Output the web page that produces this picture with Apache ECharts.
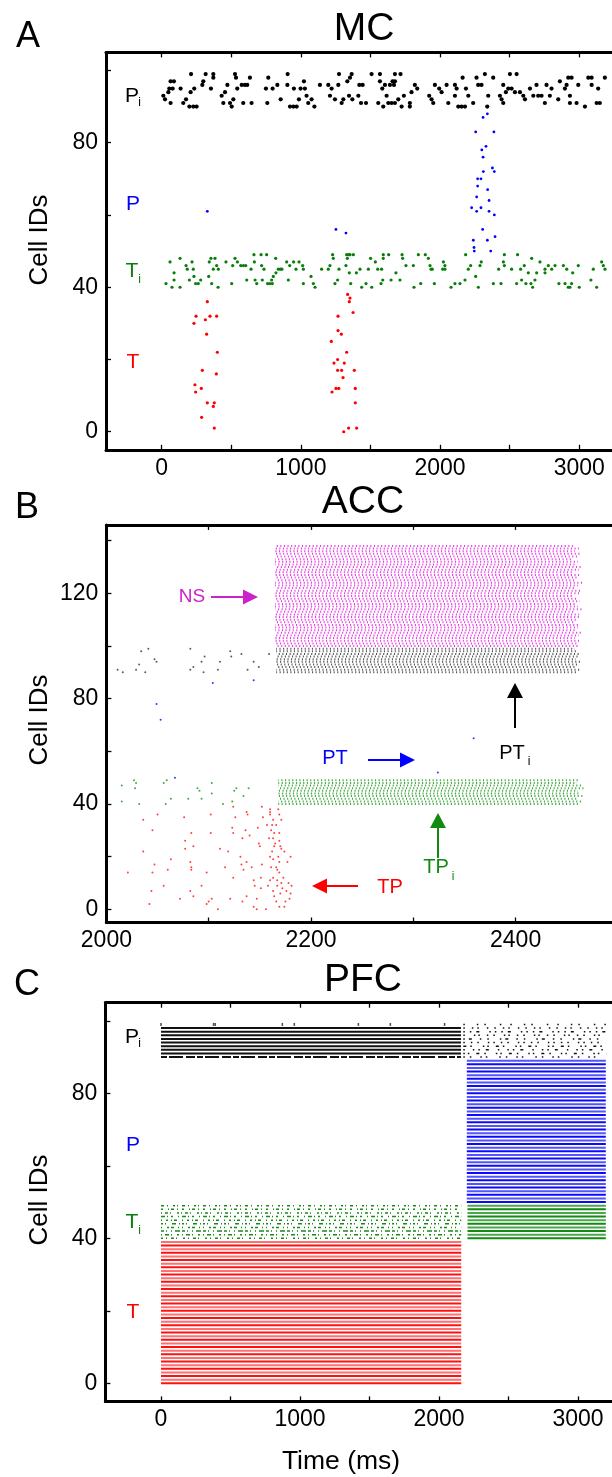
<!DOCTYPE html>
<html><head><meta charset="utf-8">
<script src="https://cdn.jsdelivr.net/npm/echarts@6/dist/echarts.min.js"></script>
<style>html,body{margin:0;padding:0;background:#fff}#c{width:612px;height:1477px}</style>
</head><body><div id="c"></div>
<script>
// ---------------- DATA ----------------
// Panel A (MC): [time ms, cell id]
const mcPi = [[12,93],[24,92],[55,95],[64,97],[88,97],[79,95],[48,94],[64,91],[136,95],[155,91],[175,92],[199,90],[227,90],[251,90],[208,94],[234,95],[211,99],[292,96],[316,99],[299,97],[354,95],[371,99],[371,98],[431,93],[455,94],[472,96],[443,91],[491,91],[503,90],[515,92],[527,99],[534,98],[543,95],[575,96],[598,96],[615,96],[634,98],[586,91],[646,91],[749,95],[766,98],[797,95],[831,96],[759,91],[855,92],[905,99],[903,96],[922,90],[950,95],[946,90],[970,90],[986,92],[998,95],[1022,97],[1041,93],[1029,95],[1053,91],[1077,92],[1097,90],[1137,96],[1197,96],[1209,93],[1221,95],[1245,92],[1274,99],[1269,96],[1293,91],[1305,92],[1334,97],[1353,98],[1365,99],[1346,93],[1370,92],[1420,96],[1444,96],[1413,93],[1432,91],[1468,91],[1508,99],[1568,99],[1568,97],[1556,91],[1585,95],[1592,90],
 [1604,96],[1616,93],[1640,96],[1659,97],[1676,99],[1676,97],[1716,99],[1669,96],[1628,91],[1652,91],[1676,91],[1700,92],[1724,90],[1740,93],[1783,91],[1783,90],[1795,94],[1819,96],[1836,95],[1922,93],[1939,92],[1951,91],[1963,96],[1994,95],[2011,94],[2047,96],[2059,91],[2107,96],[2119,95],[2107,93],[2131,90],[2155,90],[2179,90],[2162,98],[2186,95],[2203,93],[2238,91],[2262,98],[2274,96],[2298,96],[2322,99],[2346,93],[2339,90],[2382,98],[2430,93],[2442,92],[2454,96],[2454,91],[2473,94],[2490,95],[2502,99],[2514,95],[2550,99],[2538,94],[2574,94],[2598,93],[2610,92],[2646,95],[2670,93],[2693,96],[2705,93],[2729,93],[2753,91],[2765,96],[2789,93],[2801,95],[2849,92],[2861,97],[2897,95],[2909,96],[2921,98],[2945,98],[2933,93],[2933,91],[2981,91],[2993,96],[3041,90],[3065,98],[3089,98],[3089,96],[3125,91],[3136,95],[3148,91],[3184,98]];
const mcP = [[328,61],[1252,56],[1324,55],[2376,73],[2390,72],[2311,72],[2270,70],[2294,70],[2270,68],[2342,67],[2263,65],[2352,64],[2227,62],[2294,62],[2263,61],[2352,61],[2390,60],[2306,56],[2239,53],[2340,53],[2395,54],[2244,51],[2246,50],[2364,50],[2309,87],[2340,88],[2256,83],[2387,83],[2309,76],[2330,79],[2300,78]];
const mcTi = [[31,41],[60,47],[74,40],[89,44],[89,42],[132,48],[132,40],[175,46],[184,45],[199,42],[218,47],[227,45],[232,43],[244,41],[263,41],[280,42],[338,43],[342,47],[354,48],[359,41],[371,45],[383,48],[395,46],[405,40],[407,45],[462,47],[503,41],[510,46],[527,48],[544,47],[568,46],[587,46],[604,46],[611,42],[642,45],[663,49],[666,47],[671,42],[683,41],[714,49],[718,46],[723,42],[735,45],[754,49],[761,41],[778,41],[790,42],[795,41],[802,43],[819,48],[821,44],[838,45],[853,45],[864,45],[898,47],[910,42],[920,46],[948,47],[965,45],[987,47],[1013,46],[1018,41],[1018,45],[1073,43],[1090,41],[1102,40],[1149,45],[1197,45],[1209,46],[1228,49],[1233,48],[1245,41],[1264,42],[1274,45],[1324,46],[1329,49],[1334,48],[1343,49],[1353,49],[1348,44],[1358,41],[1377,49],[1399,44],[1425,45],[1437,40],[1468,41],[1485,45],[1501,48],[1509,40],[1535,47],[1552,45],[1580,45],[1576,41],[1592,48],[1592,49],[1588,42],[1631,49],[1648,42],[1683,44],[1712,42],[1727,49],[1731,48],[1755,46],[1808,46],[1813,40],[1844,49],[1861,41],[1894,49],[1916,48],[1928,46],[1935,45],[1944,45],[1959,41],[2024,47],[2019,45],[2035,45],[2035,46],[2079,40],[2107,41],[2143,41],[2179,42],[2184,49],[2203,45],[2220,46],[2256,43],[2275,40],[2287,46],[2296,47],[2383,41],[2421,45],[2438,41],[2455,47],[2462,49],[2462,46],[2514,45],[2550,41],[2557,49],[2579,45],[2586,42],[2605,46],[2617,41],[2634,44],[2653,41],[2658,48],[2665,40],[2682,42],[2694,44],[2718,47],[2754,45],[2754,44],[2778,46],[2802,45],[2826,46],[2854,41],[2886,46],[2898,41],[2910,45],[2921,40],[2933,40],[2945,41],[2953,44],[2993,46],[3000,40],[3084,42],[3101,45],[3125,40],[3161,47],[3173,46],[3185,45]];
const mcT = [[328,36],[247,32],[232,30],[314,31],[347,32],[395,32],[323,27],[400,22],[292,17],[393,16],[239,13],[244,11],[285,12],[328,8],[378,8],[371,7],[287,4],[378,1],
 [1336,38],[1353,37],[1348,36],[1375,33],[1267,32],[1267,28],[1291,27],[1219,25],[1329,22],[1238,19],[1264,20],[1312,19],[1264,17],[1293,17],[1384,17],[1303,15],[1224,11],[1252,12],[1272,12],[1391,12],[1391,8],[1308,0],[1343,1],[1401,1]];

// Panel B (ACC): sparse spikes [time ms, cell id]
const accPTiSparse = [[2011,91],[2016,90],[2034,98],[2032,93],[2029,91],[2038,90],[2041,99],[2047,95],[2049,94],[2082,99],[2085,92],[2082,91],[2093,94],[2096,96],[2095,90],[2109,91],[2111,94],[2121,98],[2122,96],[2132,97],[2138,91],[2144,94],[2149,92],[2159,97]];
const accPTSparse = [[2104,86],[2144,87],[2049,78],[2053,72],[2067,50],[2359,65],[2324,52]];
const accTPiSparse = [[2027,49],[2029,48],[2015,47],[2028,46],[2015,41],[2032,40],[2059,49],[2056,48],[2063,42],[2058,40],[2089,46],[2091,45],[2080,42],[2093,42],[2103,48],[2103,44],[2114,40],[2127,46],[2125,45],[2139,46],[2134,43],[2123,41]];
const accTP = [[2050,36],[2036,34],[2045,30],[2036,22],[2047,17],[2060,15],[2063,19],[2045,14],[2021,14],[2056,9],[2044,7],[2042,2],
 [2076,35],[2083,29],[2077,26],[2077,23],[2085,24],[2082,18],[2083,16],[2083,15],[2098,14],[2093,9],[2082,7],[2085,5],[2072,4],[2103,4],[2100,3],[2098,2],[2109,0],
 [2102,36],[2102,29],[2111,23],[2119,22],[2116,16],[2124,12],[2121,4],[2133,3],[2137,5],
 [2124,39],[2126,35],[2123,31],[2124,29],[2136,30],[2133,27],[2140,28],[2131,20],[2137,18],[2132,17],[2134,15],[2142,16],[2144,11],[2145,9],[2147,4],[2144,1],[2147,0],
 [2137,37],[2138,36],[2153,35],[2148,31],[2149,25],[2150,24],[2152,17],[2151,12],[2151,8],[2156,0],
 [2152,39],[2160,38],[2160,37],[2160,36],[2163,34],[2168,38],[2169,36],[2171,34],[2162,32],[2157,32],[2166,32],[2161,30],[2164,29],[2169,29],[2163,27],[2159,27],[2169,26],[2165,25],[2164,24],[2170,24],[2171,23],[2162,22],[2174,22],[2160,20],[2163,19],[2168,20],[2169,18],[2180,20],[2177,18],[2161,16],[2166,16],[2167,15],[2169,14],[2163,12],[2173,12],[2160,11],[2167,11],[2171,10],[2158,9],[2167,9],[2172,8],[2163,7],[2170,6],[2164,5],[2180,6],[2166,3],[2175,3],[2169,1],[2174,1],[2179,4],[2178,10],[2181,9],[2176,7]];
// Panel B tonic (regular) firing: first cell id, onset, per-cell offset times
const accNSFirstId = 100, accNSOnset = 2165;
const accNSEnd = [2463,2460,2464,2458,2462,2465,2459,2461,2463,2457,2460,2464,2462,2458,2465,2461,2459,2463,2460,2456,2462,2464,2459,2461,2465,2458,2460,2463,2457,2462,2464,2459,2461,2455,2460,2463,2458,2462,2456];
const accPTiFirstId = 90, accPTiOnset = 2166;
const accPTiEnd = [2460,2463,2458,2462,2465,2459,2461,2464,2460,2458];
const accTPiFirstId = 40, accTPiOnset = 2168;
const accTPiEnd = [2462,2465,2460,2466,2463,2461,2467,2464,2460,2463];

// Panel C (PFC): sustained firing blocks [first id, last id, onset ms, offset ms]
const pfcT = [0, 39, 0, 2160];
const pfcTiEarly = [40, 49, 0, 2160];
const pfcTiLate = [40, 49, 2205, 3200];
const pfcP = [50, 89, 2200, 3200];
const pfcPiEarly = [90, 98, 0, 2158];
const pfcPiLate = [90, 99, 2175, 3205];
const pfcPiTopSpikes = [[0,99],[378,99],[390,99],[873,99],[959,99],[1420,99],[1650,99],[2040,99]];

// Axis ticks
const xTicksMs = [0,500,1000,1500,2000,2500,3000];
const xLabelsMs = [0,1000,2000,3000];
const xTicksAcc = [2000,2100,2200,2300,2400];
const xLabelsAcc = [2000,2200,2400];
const yTicks100 = [0,20,40,60,80,100];
const yLabels100 = [0,40,80];
const yTicks140 = [0,20,40,60,80,100,120,140];
const yLabels140 = [0,40,80,120];

// ---------------- CHART ----------------
const FONT = '"Liberation Sans", Arial, Helvetica, sans-serif';
const chart = echarts.init(document.getElementById('c'), null, {renderer:'canvas'});

const grids = [
  {left:106, top:52.4, width:515, height:397.4},
  {left:106.4, top:524.9, width:511.5, height:397.6},
  {left:105.4, top:1002.7, width:514.3, height:398.7}
].map(g => Object.assign({containLabel:false, outerBoundsMode:'none', show:false}, g));

function xPair(gi, min, max, ticks, labels){
  const base = {gridIndex:gi, type:'value', min:min, max:max, splitLine:{show:false},
    axisLine:{show:true, onZero:false, lineStyle:{color:'#000', width:3}},
    axisTick:{show:true, inside:true, length:5, customValues:ticks, lineStyle:{color:'#000', width:1.3}}};
  return [
    Object.assign({}, base, {position:'bottom', axisLabel:{show:true, customValues:labels, color:'#000', fontSize:23, fontFamily:FONT, margin:7, formatter:v=>String(v)}}),
    Object.assign({}, base, {position:'top', axisLabel:{show:false}})
  ];
}
function yAx(gi, min, max, ticks, labels){
  return {gridIndex:gi, type:'value', min:min, max:max, position:'left', splitLine:{show:false},
    axisLine:{show:true, onZero:false, lineStyle:{color:'#000', width:3}},
    axisTick:{show:true, inside:true, length:5, customValues:ticks, lineStyle:{color:'#000', width:1.3}},
    axisLabel:{show:true, customValues:labels, color:'#000', fontSize:23, fontFamily:FONT, margin:8, formatter:v=>String(v)}};
}

const xAxes = [].concat(
  xPair(0, -400, 3300, xTicksMs, xLabelsMs),
  xPair(1, 2000, 2500, xTicksAcc, xLabelsAcc),
  xPair(2, -400, 3300, xTicksMs, xLabelsMs));
const yAxes = [
  yAx(0, -5, 105, yTicks100, yLabels100),
  yAx(1, -5, 146, yTicks140, yLabels140),
  yAx(2, -5, 105, yTicks100, yLabels100)];

function scatter(xi, yi, data, size, color, opacity){
  return {type:'scatter', xAxisIndex:xi, yAxisIndex:yi, data:data, symbol:'circle', symbolSize:size,
    itemStyle:{color:color, opacity:opacity==null?1:opacity}, silent:true, animation:false};
}

// segment series: data rows [id, t0, t1]; styles per row computed separately
function segSeries(xi, yi, rows, styleFn){
  const styles = rows.map((r, i) => styleFn(r, i));
  return {type:'custom', xAxisIndex:xi, yAxisIndex:yi, silent:true, animation:false,
    dimensions:['id','t0','t1'], encode:{x:[1,2], y:0}, data:rows,
    renderItem:function(params, api){
      const id = api.value(0), a = api.coord([api.value(1), id]), b = api.coord([api.value(2), id]);
      const s = styles[params.dataIndex];
      return {type:'line', shape:{x1:a[0], y1:a[1], x2:b[0], y2:b[1]},
        style:{stroke:s.c, lineWidth:s.w, lineDash:s.d || null, lineDashOffset:s.o || 0, opacity:s.op == null ? 1 : s.op}};
    }};
}
function blockRows(b){ const out = []; for (let id = b[0]; id <= b[1]; id++) out.push([id, b[2], b[3]]); return out; }
function tonicRows(firstId, onset, ends){ return ends.map((e, i) => [firstId + i, onset, e]); }

// dotted style for regular firing (ACC)
const wave = id => 1.8 + 1.6 * Math.sin(id * 0.75);
const dotStyle = (col, op) => (r) => ({c:col, w:2, d:[1.1, 2.5], o:wave(r[0]), op:op});

// sparse patterns (PFC)
const gPatterns = [[2,3,1,4,3,2,1,6],[1,3,4,2,1,5,2,3],[3,2,1,4,1,3,5,2],[1,5,2,2,3,4,1,3],[2,2,1,6,4,3,1,2],[1,4,2,3,1,2,3,5],[4,2,1,3,2,5,1,3],[1,3,3,2,1,6,2,2],[2,5,1,2,3,3,1,4],[3,3,1,5,2,2,1,4]];
const kPatterns = [[1.5,5,1.5,9,1.5,4,1.5,12],[1.5,3,1.5,7,3,5,1.5,10],[1.5,8,1.5,4,1.5,6,3,9],[3,4,1.5,11,1.5,3,1.5,7],[1.5,6,1.5,5,1.5,9,1.5,4],[1.5,4,3,8,1.5,6,1.5,11],[1.5,9,1.5,3,1.5,7,1.5,5],[1.5,5,1.5,5,3,10,1.5,4],[1.5,7,1.5,4,1.5,8,1.5,6],[1.5,12,1.5,6,1.5,14,1.5,9]];

const series = [
  // A
  scatter(0, 0, mcPi, 4.2, '#000'),
  scatter(0, 0, mcTi, 3.2, '#0a7d0a'),
  scatter(0, 0, mcT, 3.2, '#ff0000'),
  scatter(0, 0, mcP, 2.8, '#0000ff'),
  // B
  segSeries(2, 1, tonicRows(accNSFirstId, accNSOnset, accNSEnd), dotStyle('#e020e0', 0.85)),
  segSeries(2, 1, tonicRows(accPTiFirstId, accPTiOnset, accPTiEnd), dotStyle('#222', 0.75)),
  segSeries(2, 1, tonicRows(accTPiFirstId, accTPiOnset, accTPiEnd), dotStyle('#1f9a1f', 0.85)),
  scatter(2, 1, accPTiSparse, 2, '#333', 0.8),
  scatter(2, 1, accPTSparse, 2, '#2020ff', 0.9),
  scatter(2, 1, accTPiSparse, 2, '#1f9a1f', 0.85),
  scatter(2, 1, accTP, 2, '#ff2020', 0.85),
  // C
  segSeries(4, 2, blockRows(pfcT), r => ({c:'#ff1010', w:2, op: r[0] % 2 ? 0.6 : 1})),
  segSeries(4, 2, blockRows(pfcP), r => ({c:'#0a0aff', w:2, op: r[0] % 2 ? 0.7 : 1})),
  segSeries(4, 2, blockRows(pfcTiLate), r => ({c:'#108a10', w:2, op: r[0] % 2 ? 0.75 : 1})),
  segSeries(4, 2, blockRows(pfcPiEarly), r => ({c:'#111', w:2, op:1, d: r[0] === 90 ? [6,2,14,3,9,2] : null})),
  segSeries(4, 2, blockRows(pfcTiEarly), r => ({c:'#1a8a1a', w:1.5, d:gPatterns[r[0] - 40]})),
  segSeries(4, 2, blockRows(pfcPiLate), r => ({c:'#111', w:1.5, d:kPatterns[r[0] - 90]})),
  {type:'scatter', xAxisIndex:4, yAxisIndex:2, data:pfcPiTopSpikes, symbol:'rect', symbolSize:[1.5,3], itemStyle:{color:'#222'}, silent:true, animation:false}
];

// ---------------- TEXT & ANNOTATIONS ----------------
const txt = (s, x, y, size, color, extra) => Object.assign({type:'text', x:x, y:y, silent:true,
  style:{text:s, fontSize:size, fontFamily:FONT, fill:color, align:'center', verticalAlign:'middle'}}, extra || {});
const sub = (s, x, y, size, color) => txt(s, x, y, size, color);

function arrowH(x1, x2, y, color){ // tip at x2
  const dir = x2 > x1 ? 1 : -1, hl = 15, hw = 7.5;
  return [
    {type:'line', silent:true, shape:{x1:x1, y1:y, x2:x2 - dir*hl, y2:y}, style:{stroke:color, lineWidth:2}},
    {type:'polygon', silent:true, shape:{points:[[x2,y],[x2 - dir*hl, y - hw],[x2 - dir*hl, y + hw]]}, style:{fill:color}}
  ];
}
function arrowUp(x, y1, y2, color){ // tip at y2 (above)
  const hl = 15, hw = 8;
  return [
    {type:'line', silent:true, shape:{x1:x, y1:y1, x2:x, y2:y2 + hl}, style:{stroke:color, lineWidth:2}},
    {type:'polygon', silent:true, shape:{points:[[x,y2],[x - hw, y2 + hl],[x + hw, y2 + hl]]}, style:{fill:color}}
  ];
}

const graphics = [
  txt('A', 28, 37, 36, '#000'), txt('MC', 364, 29, 39, '#000'),
  txt('B', 27, 508, 36, '#000'), txt('ACC', 363, 502, 39, '#000'),
  txt('C', 27, 985, 36, '#000'), txt('PFC', 363, 980, 39, '#000'),
  txt('Cell IDs', 40, 240, 26, '#000', {rotation:Math.PI/2}),
  txt('Cell IDs', 40, 720, 26, '#000', {rotation:Math.PI/2}),
  txt('Cell IDs', 40, 1200, 26, '#000', {rotation:Math.PI/2}),
  txt('Time (ms)', 341, 1462, 26.5, '#000'),
  // A labels
  txt('P', 132, 96, 21, '#000'), sub('i', 139.5, 103, 12, '#000'),
  txt('P', 133, 204, 21, '#0000ff'),
  txt('T', 132, 271, 21, '#0a7d0a'), sub('i', 139.5, 280, 12, '#0a7d0a'),
  txt('T', 133, 362, 21, '#ff0000'),
  // C labels
  txt('P', 132, 1037, 21, '#000'), sub('i', 139.5, 1044, 12, '#000'),
  txt('P', 133, 1145, 21, '#0000ff'),
  txt('T', 132, 1222, 21, '#0a7d0a'), sub('i', 139.5, 1231, 12, '#0a7d0a'),
  txt('T', 133, 1312, 21, '#ff0000'),
  // B annotations
  txt('NS', 192, 597, 19, '#cc22cc'),
  txt('PT', 335, 758, 20, '#0000ff'),
  txt('PT', 512, 753, 20, '#000'), sub('i', 529, 762, 12, '#000'),
  txt('TP', 436, 867, 20, '#108a10'), sub('i', 453, 877, 12, '#108a10'),
  txt('TP', 390, 887, 20, '#ff0000')
].concat(
  arrowH(211, 258, 597, '#cc22cc'),
  arrowH(368, 415, 760, '#0000ff'),
  arrowUp(515, 728, 683, '#000'),
  arrowUp(438, 858, 813, '#108a10'),
  arrowH(358, 312, 886, '#ff0000')
);

chart.setOption({
  animation:false,
  backgroundColor:'#fff',
  grid:grids,
  xAxis:xAxes,
  yAxis:yAxes,
  series:series,
  graphic:{elements:graphics}
});
</script>
</body></html>
